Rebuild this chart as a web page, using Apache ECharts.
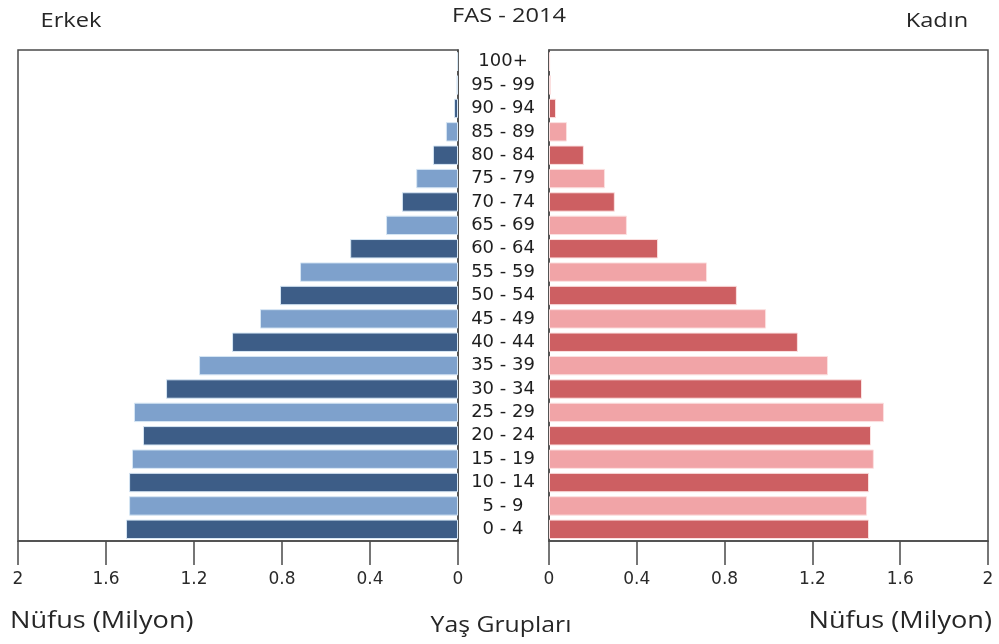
<!DOCTYPE html>
<html>
<head>
<meta charset="utf-8">
<script src="https://cdn.jsdelivr.net/npm/echarts@6/dist/echarts.min.js"></script>
<style>
  html, body { margin: 0; padding: 0; background: #fff; }
  #chart { width: 999px; height: 644px; }
</style>
</head>
<body>
<div id="chart"></div>
<script>
// yaş grupları (alttan üste)
var ageGroups = ['0 - 4', '5 - 9', '10 - 14', '15 - 19', '20 - 24', '25 - 29', '30 - 34',
    '35 - 39', '40 - 44', '45 - 49', '50 - 54', '55 - 59', '60 - 64', '65 - 69',
    '70 - 74', '75 - 79', '80 - 84', '85 - 89', '90 - 94', '95 - 99', '100+'];
// erkek nüfus (milyon)
var male = [1.509, 1.495, 1.495, 1.482, 1.432, 1.473, 1.327, 1.177, 1.027, 0.900, 0.809,
    0.718, 0.490, 0.327, 0.255, 0.190, 0.114, 0.055, 0.018, 0.007, 0.004];
// kadın nüfus (milyon)
var female = [1.458, 1.449, 1.458, 1.480, 1.467, 1.526, 1.426, 1.271, 1.134, 0.989, 0.856,
    0.720, 0.497, 0.355, 0.300, 0.255, 0.159, 0.082, 0.032, 0.009, 0.005];
var xTicks = ['0', '0.4', '0.8', '1.2', '1.6', '2'];

var chart = echarts.init(document.getElementById('chart'));

var axisColor = '#4a4a4a';

function xAxisFor(gridIndex, inverse) {
    return {
        gridIndex: gridIndex,
        type: 'value',
        inverse: inverse,
        min: 0,
        max: 2,
        interval: 0.4,
        axisLine: { show: true, lineStyle: { color: axisColor, width: 1.5 } },
        axisTick: { show: true, length: 24, lineStyle: { color: axisColor, width: 1.5 } },
        splitLine: { show: false },
        axisLabel: {
            margin: 30,
            fontFamily: 'DejaVu Sans',
            fontSize: 17,
            color: '#2a2a2a',
            formatter: function (v) {
                return xTicks[Math.round(v / 0.4)];
            }
        }
    };
}

function title(text, x, y, size, align) {
    return {
        type: 'text',
        x: x,
        y: y,
        scaleX: 1.18,
        style: {
            text: text,
            fontFamily: 'Open Sans',
            fontSize: size,
            fill: '#262626',
            align: align,
            verticalAlign: 'middle'
        }
    };
}

var option = {
    backgroundColor: '#ffffff',
    animation: false,
    grid: [
        { left: 18, right: 541, top: 50, bottom: 103, show: true, borderColor: axisColor, borderWidth: 1.5 },
        { left: 549, right: 11, top: 50, bottom: 103, show: true, borderColor: axisColor, borderWidth: 1.5 }
    ],
    xAxis: [xAxisFor(0, true), xAxisFor(1, false)],
    yAxis: [
        {
            gridIndex: 0,
            type: 'category',
            position: 'right',
            data: ageGroups,
            axisLine: { show: true, lineStyle: { color: axisColor, width: 1.5 } },
            axisTick: { show: false },
            axisLabel: {
                interval: 0,
                align: 'center',
                margin: 45,
                padding: [4, 0, 0, 0],
                fontFamily: 'DejaVu Sans',
                fontSize: 18,
                color: '#1e1e1e'
            }
        },
        {
            gridIndex: 1,
            type: 'category',
            position: 'left',
            data: ageGroups,
            axisLine: { show: true, lineStyle: { color: axisColor, width: 1.5 } },
            axisTick: { show: false },
            axisLabel: { show: false }
        }
    ],
    series: [
        {
            name: 'Erkek',
            type: 'bar',
            xAxisIndex: 0,
            yAxisIndex: 0,
            data: male,
            barCategoryGap: '17%',
            itemStyle: {
                color: function (p) { return p.dataIndex % 2 ? '#7ea1cc' : '#3d5d87'; },
                borderColor: '#d6e6f4',
                borderWidth: 1
            }
        },
        {
            name: 'Kadın',
            type: 'bar',
            xAxisIndex: 1,
            yAxisIndex: 1,
            data: female,
            barCategoryGap: '17%',
            itemStyle: {
                color: function (p) { return p.dataIndex % 2 ? '#f1a4a7' : '#cd5f62'; },
                borderColor: '#fbe0e0',
                borderWidth: 1
            }
        }
    ],
    graphic: [
        title('Erkek', 71, 21, 20, 'center'),
        title('FAS - 2014', 509, 16, 20, 'center'),
        title('Kadın', 937, 21, 20, 'center'),
        title('Nüfus (Milyon)', 10, 621, 23, 'left'),
        title('Yaş Grupları', 501, 626, 21, 'center'),
        title('Nüfus (Milyon)', 992, 621, 23, 'right')
    ]
};

chart.setOption(option);
</script>
</body>
</html>
